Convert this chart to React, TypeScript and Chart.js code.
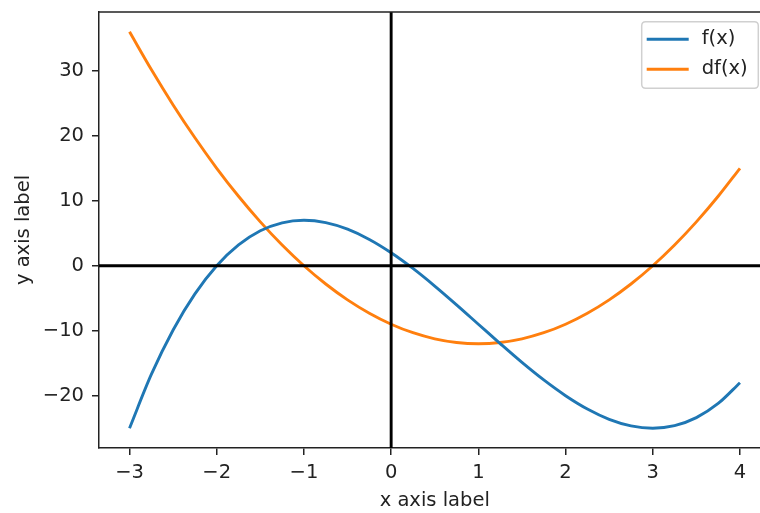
import React, { useEffect, useRef } from "react";
import { Chart, registerables } from "chart.js";

Chart.register(...registerables);

// Sample positions along the x axis
const xValues = [
  -3, -2.75, -2.5, -2.25, -2, -1.75, -1.5, -1.25, -1, -0.75, -0.5, -0.25, 0,
  0.25, 0.5, 0.75, 1, 1.25, 1.5, 1.75, 2, 2.25, 2.5, 2.75, 3, 3.25, 3.5, 3.75, 4,
];

// f(x) values
const fValues = [
  -25, -16.73, -9.88, -4.33, 0, 3.2, 5.38, 6.61, 7, 6.64, 5.63, 4.05, 2,
  -0.42, -3.13, -6.02, -9, -11.98, -14.88, -17.58, -20, -22.05, -23.63, -24.64,
  -25, -24.61, -23.38, -21.2, -18,
];

// df(x) values
const dfValues = [
  36, 30.19, 24.75, 19.69, 15, 10.69, 6.75, 3.19, 0, -2.81, -5.25, -7.31, -9,
  -10.31, -11.25, -11.81, -12, -11.81, -11.25, -10.31, -9, -7.31, -5.25, -2.81,
  0, 3.19, 6.75, 10.69, 15,
];

const seriesLabels = ["f(x)", "df(x)"];
const seriesColors = ["#1f77b4", "#ff7f0e"];

const xTicks = [-3, -2, -1, 0, 1, 2, 3, 4];
const yTicks = [-20, -10, 0, 10, 20, 30];

const X_MIN = -3.35;
const X_MAX = 4.35;
const Y_MIN = -28.05;
const Y_MAX = 39.05;

const FONT_FAMILY = "'DejaVu Sans', sans-serif";
const FONT_SIZE = 19.5;
const INK = "#222";

const fmt = (v: number) => (v < 0 ? "\u2212" + Math.abs(v) : String(v));

const zeroLinesPlugin = {
  id: "zeroLines",
  afterDatasetsDraw(chart: any) {
    const { ctx, chartArea, scales } = chart;
    const x0 = scales.x.getPixelForValue(0);
    const y0 = scales.y.getPixelForValue(0);
    ctx.save();
    ctx.strokeStyle = "#000";
    ctx.lineWidth = 2.9;
    ctx.beginPath();
    ctx.moveTo(chartArea.left, y0);
    ctx.lineTo(chartArea.right, y0);
    ctx.moveTo(x0, chartArea.top);
    ctx.lineTo(x0, chartArea.bottom);
    ctx.stroke();
    ctx.restore();
  },
};

const framePlugin = {
  id: "frameAndLegend",
  afterDraw(chart: any) {
    const { ctx, chartArea } = chart;
    ctx.save();
    // top spine
    ctx.strokeStyle = INK;
    ctx.lineWidth = 1.5;
    ctx.beginPath();
    ctx.moveTo(chartArea.left, chartArea.top);
    ctx.lineTo(chartArea.right, chartArea.top);
    ctx.stroke();

    // legend
    ctx.font = `${FONT_SIZE}px ${FONT_FAMILY}`;
    const datasets = chart.data.datasets;
    let maxW = 0;
    datasets.forEach((d: any) => {
      maxW = Math.max(maxW, ctx.measureText(d.label).width);
    });
    const pad = 7.8;
    const handle = 42;
    const gap = 13;
    const w = pad + handle + gap + maxW + pad;
    const h = 66.6;
    const right = 758.3;
    const left = right - w;
    const top = chartArea.top + 9.7;
    const r = 4;
    ctx.beginPath();
    ctx.moveTo(left + r, top);
    ctx.lineTo(left + w - r, top);
    ctx.quadraticCurveTo(left + w, top, left + w, top + r);
    ctx.lineTo(left + w, top + h - r);
    ctx.quadraticCurveTo(left + w, top + h, left + w - r, top + h);
    ctx.lineTo(left + r, top + h);
    ctx.quadraticCurveTo(left, top + h, left, top + h - r);
    ctx.lineTo(left, top + r);
    ctx.quadraticCurveTo(left, top, left + r, top);
    ctx.closePath();
    ctx.fillStyle = "rgba(255,255,255,0.8)";
    ctx.fill();
    ctx.strokeStyle = "#d0d0d0";
    ctx.lineWidth = 1.5;
    ctx.stroke();

    datasets.forEach((d: any, i: number) => {
      const cy = top + 17.6 + i * 30;
      ctx.strokeStyle = d.borderColor;
      ctx.lineWidth = 2.9;
      ctx.beginPath();
      ctx.moveTo(left + 5, cy);
      ctx.lineTo(left + 5 + handle, cy);
      ctx.stroke();
      ctx.fillStyle = INK;
      ctx.textAlign = "left";
      ctx.textBaseline = "middle";
      ctx.fillText(d.label, left + 5 + handle + gap, cy);
    });
    ctx.restore();
  },
};

export default function App() {
  const canvasRef = useRef<HTMLCanvasElement | null>(null);

  useEffect(() => {
    const canvas = canvasRef.current;
    if (!canvas) return;
    const font = { family: FONT_FAMILY, size: FONT_SIZE };
    const allValues = [fValues, dfValues];
    const chart = new Chart(canvas, {
      type: "line",
      data: {
        datasets: allValues.map((vals, i) => ({
          label: seriesLabels[i],
          data: xValues.map((x, j) => ({ x, y: vals[j] })),
          borderColor: seriesColors[i],
          backgroundColor: seriesColors[i],
          borderWidth: 2.9,
          pointRadius: 0,
          cubicInterpolationMode: "monotone" as const,
          fill: false,
        })),
      },
      options: {
        animation: false,
        responsive: false,
        devicePixelRatio: 1,
        layout: { padding: { left: 0, top: 12, right: 9.5, bottom: 0 } },
        plugins: {
          legend: { display: false },
          tooltip: { enabled: false },
        },
        scales: {
          x: {
            type: "linear",
            min: X_MIN,
            max: X_MAX,
            afterBuildTicks: (s: any) => {
              s.ticks = xTicks.map((v) => ({ value: v }));
            },
            afterFit: (s: any) => {
              s.height = 65;
              s.paddingLeft = 0;
              s.paddingRight = 0;
              s.paddingTop = 0;
              s.paddingBottom = 0;
            },
            ticks: {
              font,
              color: INK,
              padding: 6,
              autoSkip: false,
              maxRotation: 0,
              callback: (v: any) => fmt(Number(v)),
            },
            grid: {
              drawOnChartArea: false,
              tickLength: 7,
              color: INK,
              lineWidth: 1.5,
            },
            border: { color: INK, width: 1.5 },
            title: {
              display: true,
              text: "x axis label",
              font,
              color: INK,
              padding: { top: 0, bottom: 0 },
            },
          },
          y: {
            type: "linear",
            min: Y_MIN,
            max: Y_MAX,
            afterBuildTicks: (s: any) => {
              s.ticks = yTicks.map((v) => ({ value: v }));
            },
            afterFit: (s: any) => {
              s.width = 99;
              s.paddingLeft = 0;
              s.paddingRight = 0;
              s.paddingTop = 0;
              s.paddingBottom = 0;
            },
            ticks: {
              font,
              color: INK,
              padding: 8,
              autoSkip: false,
              callback: (v: any) => fmt(Number(v)),
            },
            grid: {
              drawOnChartArea: false,
              tickLength: 7,
              color: INK,
              lineWidth: 1.5,
            },
            border: { color: INK, width: 1.5 },
            title: {
              display: true,
              text: "y axis label",
              font,
              color: INK,
              padding: { top: 12, bottom: 0 },
            },
          },
        },
      },
      plugins: [zeroLinesPlugin, framePlugin],
    });
    return () => chart.destroy();
  }, []);

  return (
    <div
      style={{
        position: "fixed",
        left: 0,
        top: 0,
        width: 760,
        height: 513,
        overflow: "hidden",
        background: "#fff",
      }}
    >
      <canvas
        ref={canvasRef}
        width={780}
        height={513}
        style={{ display: "block", width: 780, height: 513 }}
      />
    </div>
  );
}
